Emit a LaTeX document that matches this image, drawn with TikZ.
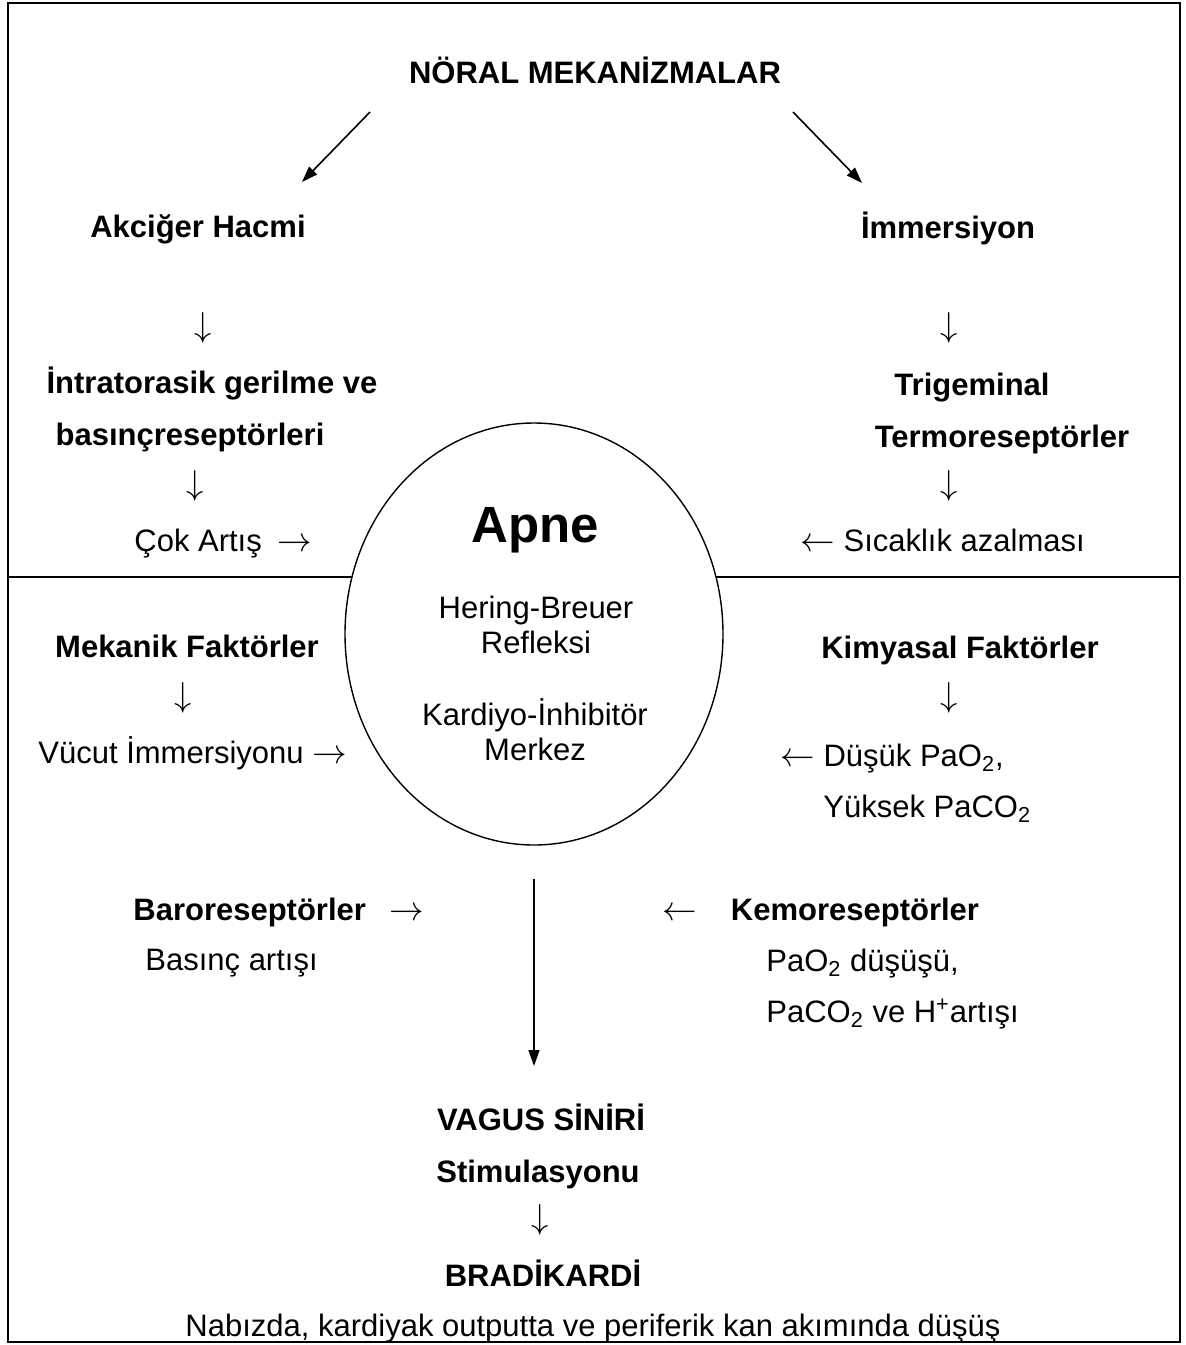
\documentclass[tikz,border=0pt]{standalone}
\usepackage{fontspec}
\setmainfont{Liberation Sans}
\usetikzlibrary{arrows.meta,shapes.geometric}

\newcommand{\dnar}{{\fontsize{17}{18}\selectfont$\downarrow$}}
\newcommand{\rtar}{{\fontsize{17}{18}\selectfont$\rightarrow$}}
\newcommand{\ltar}{{\fontsize{17}{18}\selectfont$\leftarrow$}}

\begin{document}
\begin{tikzpicture}[x=0.5pt,y=-0.5pt,
  txt/.style={anchor=base,inner sep=0pt,font=\fontsize{15.5}{18}\selectfont},
  btxt/.style={txt,font=\fontsize{15.5}{18}\selectfont\bfseries},
  ltxt/.style={txt,anchor=base west},
  link/.style={line width=0.8pt,-{Triangle[length=8pt,width=5.5pt]}}]
\useasboundingbox (0,0) rectangle (1186,1345);

\def\xl{8}
\def\xr{1180}
\def\ymid{577}

\draw[line width=0.9pt] (\xl,3) rectangle (\xr,1342);
\draw[line width=0.6pt] (\xl,\ymid) -- (\xr,\ymid);

\node[btxt] (noral) at (595,83) {NÖRAL MEKANİZMALAR};
\coordinate (la) at (370,112);
\coordinate (lb) at (302,182);
\coordinate (ra) at (793,112);
\coordinate (rb) at (862,183);
\draw[link] (la) -- (lb);
\draw[link] (ra) -- (rb);

\node[btxt] (akciger) at (198,237) {Akciğer Hacmi};
\node[txt] (da1) at (203,336) {\dnar};
\node[btxt] (intra) at (212,393) {İntratorasik gerilme ve};
\node[btxt] (basinc) at (190,445) {basınçreseptörleri};
\node[txt] (da2) at (195,494) {\dnar};
\node[ltxt] (cok) at (134,551) {Çok Artış\enspace\rtar};

\node[btxt] (immer) at (948,238) {İmmersiyon};
\node[txt] (db1) at (949,336) {\dnar};
\node[btxt] (trig) at (972,395) {Trigeminal};
\node[btxt] (termo) at (1002,447) {Termoreseptörler};
\node[txt] (db2) at (949,494) {\dnar};
\node[ltxt] (sicak) at (800,551) {\ltar\ Sıcaklık azalması};

\node[ellipse,draw,line width=0.7pt,fill=white,inner sep=0pt,
  minimum width=189pt,minimum height=211pt] (oval) at (534,634) {};
\node[txt,font=\fontsize{25.5}{30}\selectfont\bfseries] (apne) at (535,542) {Apne};
\node[txt] (hb1) at (536,618) {Hering-Breuer};
\node[txt] (hb2) at (536,653) {Refleksi};
\node[txt] (ki1) at (535,725) {Kardiyo-İnhibitör};
\node[txt] (ki2) at (535,760) {Merkez};

\node[btxt] (mekanik) at (187,657) {Mekanik Faktörler};
\node[txt] (dc1) at (183,706) {\dnar};
\node[ltxt] (vucut) at (38,763) {Vücut İmmersiyonu \rtar};

\node[btxt] (kimya) at (960,658) {Kimyasal Faktörler};
\node[txt] (dd1) at (949,706) {\dnar};
\node[ltxt] (dusuk) at (780,766) {\ltar\ Düşük PaO\textsubscript{2},};
\node[ltxt] (yuksek) at (823,817) {Yüksek PaCO\textsubscript{2}};

\node[ltxt] (baro) at (133,920) {\textbf{Baroreseptörler}\hspace{12pt}\rtar};
\node[ltxt] (barob) at (145,970) {Basınç artışı};
\node[ltxt] (kemo) at (662,920) {\ltar\hspace{17pt}\textbf{Kemoreseptörler}};
\node[ltxt] (kemob) at (766,971) {PaO\textsubscript{2} düşüşü,};
\node[ltxt] (kemoc) at (766,1022) {PaCO\textsubscript{2} ve H\textsuperscript{+}artışı};

\coordinate (vtop) at (534,1066);
\draw[link,shorten <=16.5pt] (oval.south) -- (vtop);

\node[btxt] (vagus) at (541,1130) {VAGUS SİNİRİ};
\node[btxt] (stim) at (538,1182) {Stimulasyonu};
\node[txt] (de1) at (540,1228) {\dnar};
\node[btxt] (brady) at (543,1286) {BRADİKARDİ};
\node[txt] (nabiz) at (593,1336) {Nabızda, kardiyak outputta ve periferik kan akımında düşüş};

\end{tikzpicture}
\end{document}
